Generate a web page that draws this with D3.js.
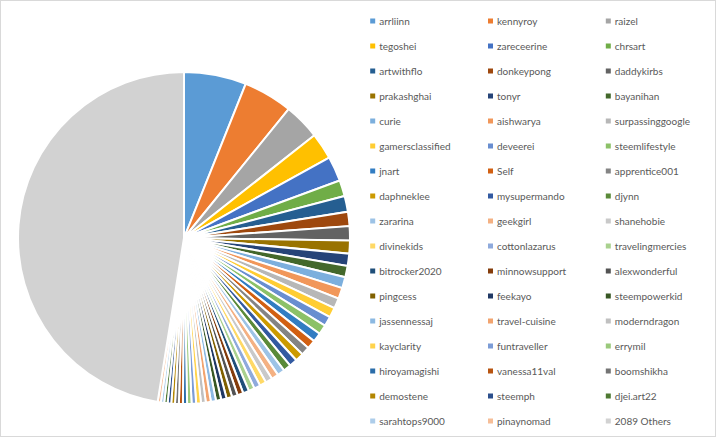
<!DOCTYPE html>
<html>
<head>
<meta charset="utf-8">
<script src="https://cdn.jsdelivr.net/npm/d3@7"></script>
<style>
  html, body { margin: 0; padding: 0; background: #fff; }
  svg { display: block; }
</style>
</head>
<body>
<svg id="chart" width="717" height="438"></svg>
<script>
// ---- DATA ----
const categories = [
  "arrliinn", "kennyroy", "raizel",
  "tegoshei", "zareceerine", "chrsart",
  "artwithflo", "donkeypong", "daddykirbs",
  "prakashghai", "tonyr", "bayanihan",
  "curie", "aishwarya", "surpassinggoogle",
  "gamersclassified", "deveerei", "steemlifestyle",
  "jnart", "Self", "apprentice001",
  "daphneklee", "mysupermando", "djynn",
  "zararina", "geekgirl", "shanehobie",
  "divinekids", "cottonlazarus", "travelingmercies",
  "bitrocker2020", "minnowsupport", "alexwonderful",
  "pingcess", "feekayo", "steempowerkid",
  "jassennessaj", "travel-cuisine", "moderndragon",
  "kayclarity", "funtraveller", "errymil",
  "hiroyamagishi", "vanessa11val", "boomshikha",
  "demostene", "steemph", "djei.art22",
  "sarahtops9000", "pinaynomad", "2089 Others"
];
// share of total, percent
const shares = [
  6.06, 4.78, 3.53,
  2.56, 2.42, 1.57,
  1.53, 1.39, 1.39,
  1.25, 1.19, 1.11,
  1.08, 1.06, 1.00,
  0.97, 0.94, 0.92,
  0.89, 0.86, 0.83,
  0.81, 0.78, 0.75,
  0.72, 0.69, 0.67,
  0.64, 0.61, 0.58,
  0.58, 0.57, 0.56,
  0.54, 0.53, 0.51,
  0.50, 0.49, 0.47,
  0.46, 0.44, 0.43,
  0.40, 0.39, 0.375,
  0.36, 0.35, 0.33,
  0.32, 0.31, 47.42
];
// Office theme accents and the luminance variations Excel cycles through
const accents = ["#5B9BD5", "#ED7D31", "#A5A5A5", "#FFC000", "#4472C4", "#70AD47"];
const lumVariants = [[1, 0], [0.6, 0], [0.8, 0.2], [0.8, 0], [0.6, 0.4], [0.5, 0], [0.7, 0.3], [0.7, 0], [0.5, 0.5]];

function sliceColor(i) {
  const base = d3.hsl(accents[i % accents.length]);
  const v = lumVariants[Math.floor(i / accents.length) % lumVariants.length];
  const c = d3.hsl(base.h, base.s, base.l * v[0] + v[1]);
  return c.formatHex();
}

const data = categories.map((c, i) => ({ name: c, value: shares[i], color: sliceColor(i) }));

const svg = d3.select("#chart");

// chart area border
svg.append("rect")
  .attr("x", 0.5).attr("y", 0.5)
  .attr("width", 715).attr("height", 436)
  .attr("fill", "#fff").attr("stroke", "#D9D9D9").attr("stroke-width", 1);

// ---- PIE ----
const cx = 184, cy = 238, R = 166;
const pie = d3.pie().value(d => d.value).sort(null).startAngle(0).endAngle(2 * Math.PI);
const arc = d3.arc().innerRadius(0).outerRadius(R);

const g = svg.append("g").attr("transform", `translate(${cx},${cy})`);
g.selectAll("path")
  .data(pie(data))
  .join("path")
  .attr("d", arc)
  .attr("fill", d => d.data.color)
  .attr("stroke", "#fff")
  .attr("stroke-width", 2);

// ---- LEGEND ----
const colX = d3.scalePoint().domain([0, 1, 2]).range([372.7, 608.3]);
const rowY = d3.scaleLinear().domain([0, 16]).range([21, 421]);

const lg = svg.append("g").attr("font-family", "Lato, 'Liberation Sans', sans-serif")
  .attr("font-size", "10px").attr("fill", "#595959");

const items = lg.selectAll("g.item")
  .data(data)
  .join("g")
  .attr("class", "item")
  .attr("transform", (d, i) => `translate(${colX(i % 3)},${rowY(Math.floor(i / 3))})`);

items.append("rect")
  .attr("x", -2.5).attr("y", -2.5)
  .attr("width", 5).attr("height", 5)
  .attr("fill", d => d.color);

items.append("text")
  .attr("x", 6.5)
  .attr("y", 3.6)
  .text(d => d.name);
</script>
</body>
</html>
